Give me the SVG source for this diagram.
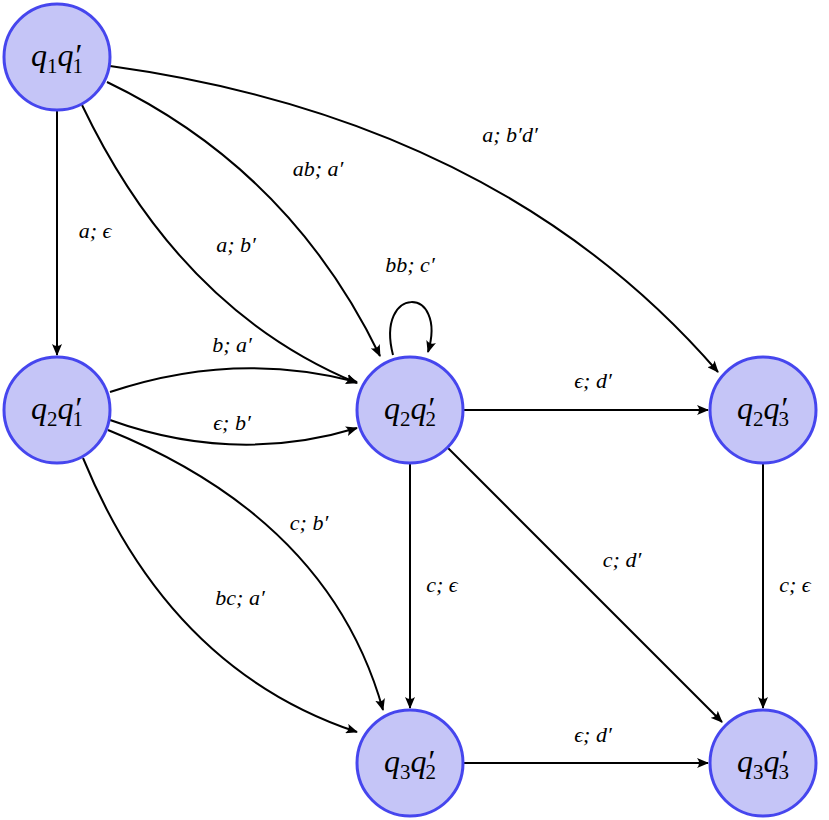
<svg xmlns="http://www.w3.org/2000/svg" width="829" height="820" viewBox="0 0 829 820">
<style>
.n{fill:#c5c5f7;stroke:#4646ee;stroke-width:3}
.nt{font-family:"Liberation Serif",serif;font-style:italic;font-size:32px;text-anchor:middle}
.l{font-family:"Liberation Serif",serif;font-style:italic;font-size:22px;text-anchor:middle}
.e{fill:none;stroke:#000;stroke-width:2;marker-end:url(#a)}
.s{font-size:21px;font-style:normal}
</style>
<defs><marker id="a" viewBox="0 0 12 10" refX="11" refY="5" markerWidth="12" markerHeight="10" markerUnits="userSpaceOnUse" orient="auto"><path d="M0,0 Q4,5 0,10 L12,5 Z" fill="#000"/></marker></defs>
<g id="connectors">
<path class="e" d="M57,111 L57,355"/>
<path class="e" d="M82,105 Q180,310 357,383"/>
<path class="e" d="M107,82 Q290,170 380,356"/>
<path class="e" d="M110,66 Q500,120 718,372"/>
<path class="e" d="M393,355 C375,285 448,285 428,352"/>
<path class="e" d="M110,392 Q235,350 357,382"/>
<path class="e" d="M110,420 Q235,465 357,428"/>
<path class="e" d="M108,430 Q330,520 383,710"/>
<path class="e" d="M83,458 Q170,670 357,732"/>
<path class="e" d="M463,410 L708,410"/>
<path class="e" d="M410,463 L410,708"/>
<path class="e" d="M448,448 L722,722"/>
<path class="e" d="M763,463 L763,708"/>
<path class="e" d="M463,763 L708,763"/>
<text class="l" x="95" y="238">a; ϵ</text>
<text class="l" x="236" y="252">a; b′</text>
<text class="l" x="318" y="176">ab; a′</text>
<text class="l" x="510" y="142">a; b′d′</text>
<text class="l" x="410" y="272">bb; c′</text>
<text class="l" x="232" y="352">b; a′</text>
<text class="l" x="232" y="430">ϵ; b′</text>
<text class="l" x="309" y="530">c; b′</text>
<text class="l" x="240" y="605">bc; a′</text>
<text class="l" x="593" y="388">ϵ; d′</text>
<text class="l" x="442" y="592">c; ϵ</text>
<text class="l" x="622" y="567">c; d′</text>
<text class="l" x="795" y="592">c; ϵ</text>
<text class="l" x="593" y="742">ϵ; d′</text>
</g>
<g id="q1q1"><circle class="n" cx="57" cy="57" r="53"/><text class="nt" x="57" y="66">q<tspan class="s" dy="7">1</tspan><tspan dy="-7">q′</tspan><tspan class="s" dx="-8" dy="7">1</tspan></text></g>
<g id="q2q1"><circle class="n" cx="57" cy="410" r="53"/><text class="nt" x="57" y="419">q<tspan class="s" dy="7">2</tspan><tspan dy="-7">q′</tspan><tspan class="s" dx="-8" dy="7">1</tspan></text></g>
<g id="q2q2"><circle class="n" cx="410" cy="410" r="53"/><text class="nt" x="410" y="419">q<tspan class="s" dy="7">2</tspan><tspan dy="-7">q′</tspan><tspan class="s" dx="-8" dy="7">2</tspan></text></g>
<g id="q2q3"><circle class="n" cx="763" cy="410" r="53"/><text class="nt" x="763" y="419">q<tspan class="s" dy="7">2</tspan><tspan dy="-7">q′</tspan><tspan class="s" dx="-8" dy="7">3</tspan></text></g>
<g id="q3q2"><circle class="n" cx="410" cy="763" r="53"/><text class="nt" x="410" y="772">q<tspan class="s" dy="7">3</tspan><tspan dy="-7">q′</tspan><tspan class="s" dx="-8" dy="7">2</tspan></text></g>
<g id="q3q3"><circle class="n" cx="763" cy="763" r="53"/><text class="nt" x="763" y="772">q<tspan class="s" dy="7">3</tspan><tspan dy="-7">q′</tspan><tspan class="s" dx="-8" dy="7">3</tspan></text></g>
</svg>
